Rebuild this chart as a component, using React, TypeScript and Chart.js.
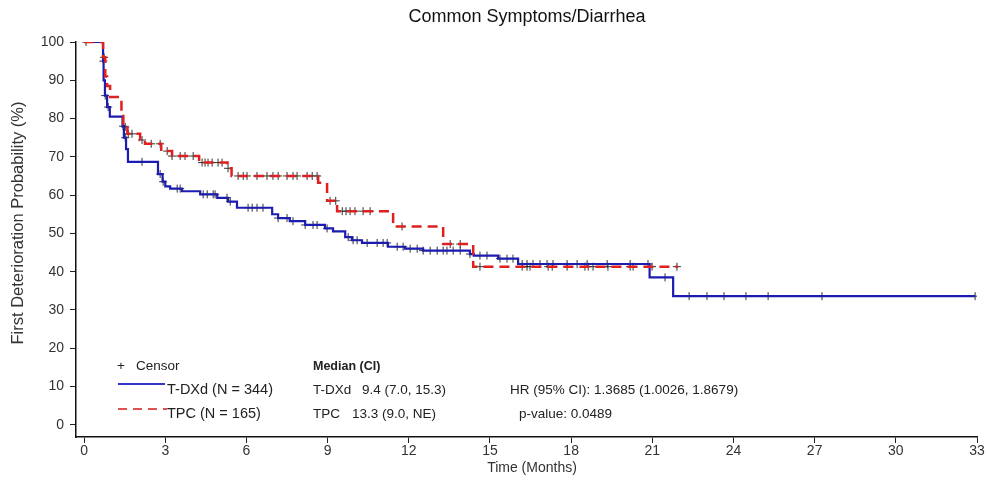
import React, { useEffect, useRef } from "react";
import { Chart, registerables } from "chart.js";

Chart.register(...registerables);

const chartTitle = "Common Symptoms/Diarrhea";
const xAxisTitle = "Time (Months)";
const yAxisTitle = "First Deterioration Probability (%)";
const xTicks = [0, 3, 6, 9, 12, 15, 18, 21, 24, 27, 30, 33];
const yTicks = [0, 10, 20, 30, 40, 50, 60, 70, 80, 90, 100];

// T-DXd Kaplan-Meier steps (month, %)
const tdxdTimes = [0, 0.7, 0.72, 0.77, 0.85, 0.95, 1.42, 1.47, 1.55, 1.62, 2.73, 2.9, 3.0, 3.18, 3.62, 4.29, 4.92, 5.32, 5.65, 6.95, 7.17, 7.6, 8.17, 8.9, 9.2, 9.65, 9.9, 10.27, 11.23, 11.86, 12.53, 14.26, 14.4, 15.3, 16.04, 20.9, 21.77, 32.93];
const tdxdValues = [100, 95, 90, 86, 83, 80.5, 78, 75, 72, 68.7, 65.5, 63.5, 62.3, 61.7, 61.0, 60.2, 59.3, 58.3, 56.7, 55, 54, 53.2, 52.2, 51.3, 50.5, 49, 48.2, 47.5, 46.5, 46, 45.5, 44.6, 44.2, 43.4, 42, 38.5, 33.6, 33.6];

// TPC Kaplan-Meier steps (month, %)
const tpcTimes = [0, 0.7, 0.78, 0.85, 0.96, 1.38, 1.45, 1.6, 2.07, 2.25, 2.85, 3.25, 4.25, 5.3, 5.45, 8.65, 8.98, 9.35, 11.42, 13.27, 14.38, 21.95];
const tpcValues = [100, 96, 91, 88.5, 85.6, 82, 77.8, 76, 74.4, 73.4, 71.5, 70.2, 68.5, 67, 65, 63.2, 58.5, 55.8, 51.8, 47.2, 41.3, 41.3];

// Censor times (months)
const tdxdCensorTimes = [0.71, 0.78, 0.89, 1.44, 1.52, 2.14, 2.81, 2.92, 3.44, 3.55, 4.4, 4.55, 4.77, 4.84, 5.28, 5.4, 6.06, 6.21, 6.39, 6.61, 7.17, 7.5, 7.72, 8.17, 8.46, 8.61, 8.98, 9.76, 9.94, 10.09, 10.46, 10.83, 11.05, 11.2, 11.57, 11.79, 12.05, 12.31, 12.53, 12.79, 13.05, 13.27, 13.41, 13.64, 13.9, 14.26, 14.63, 14.89, 15.37, 15.63, 15.85, 16.19, 16.37, 16.59, 16.85, 17.11, 17.33, 17.85, 18.22, 18.59, 19.33, 20.18, 20.84, 21.47, 22.36, 23.02, 23.65, 24.46, 25.28, 27.27, 32.93];
const tpcCensorTimes = [0.07, 0.74, 1.52, 1.63, 1.77, 2.14, 2.48, 2.81, 3.07, 3.25, 3.55, 3.73, 4.03, 4.36, 4.47, 4.58, 4.73, 4.95, 5.1, 5.32, 5.69, 5.88, 6.02, 6.39, 6.76, 6.98, 7.17, 7.5, 7.72, 7.87, 8.24, 8.43, 8.61, 9.09, 9.3, 9.54, 9.68, 9.83, 10.01, 10.31, 10.57, 11.75, 13.53, 13.9, 14.63, 16.19, 16.37, 16.48, 17.15, 17.3, 17.85, 18.51, 18.63, 18.81, 19.36, 20.18, 20.29, 20.99, 21.91];

const censorLabel = "Censor";
const tdxdLabel = "T-DXd (N = 344)";
const tpcLabel = "TPC (N = 165)";
const medianHeader = "Median (CI)";
const tdxdMedian = ["T-DXd", "9.4 (7.0, 15.3)"];
const tpcMedian = ["TPC", "13.3 (9.0, NE)"];
const hrText = "HR (95% CI): 1.3685 (1.0026, 1.8679)";
const pText = "p-value: 0.0489";

const BLUE = "#1c1cb0";
const RED = "#dd2020";
const FONT = "'Liberation Sans', Arial, sans-serif";

function stepValueAt(times: number[], values: number[], t: number) {
  let v = values[0];
  for (let i = 0; i < times.length; i++) if (times[i] <= t) v = values[i];
  return v;
}

const toPoints = (times: number[], values: number[]) => times.map((t, i) => ({ x: t, y: values[i] }));
const toCensor = (ct: number[], times: number[], values: number[]) => ct.map((t) => ({ x: t, y: stepValueAt(times, values, t) }));

const overlayPlugin = {
  id: "overlay",
  afterDraw(chart: any) {
    const ctx = chart.ctx as CanvasRenderingContext2D;
    ctx.save();
    ctx.fillStyle = "#111";
    ctx.textBaseline = "middle";
    // title
    ctx.font = `18px ${FONT}`;
    ctx.textAlign = "center";
    ctx.fillText(chartTitle, 527, 17);
    // x axis title
    ctx.font = `14px ${FONT}`;
    ctx.fillStyle = "#333";
    ctx.fillText(xAxisTitle, 532, 468);
    // y axis title
    ctx.save();
    ctx.translate(18, 223);
    ctx.rotate(-Math.PI / 2);
    ctx.font = `16.5px ${FONT}`;
    ctx.fillText(yAxisTitle, 0, 0);
    ctx.restore();

    // legend
    ctx.textAlign = "left";
    ctx.font = `13.5px ${FONT}`;
    ctx.fillStyle = "#222";
    ctx.fillText("+", 117, 366);
    ctx.fillText(censorLabel, 136, 366);
    ctx.strokeStyle = "#3535cc";
    ctx.lineWidth = 2;
    ctx.beginPath();
    ctx.moveTo(118, 384);
    ctx.lineTo(165, 384);
    ctx.stroke();
    ctx.strokeStyle = "#e05050";
    ctx.setLineDash([9, 6]);
    ctx.beginPath();
    ctx.moveTo(118, 409);
    ctx.lineTo(167, 409);
    ctx.stroke();
    ctx.setLineDash([]);
    ctx.font = `14.5px ${FONT}`;
    ctx.fillText(tdxdLabel, 167, 390);
    ctx.fillText(tpcLabel, 167, 414);

    ctx.font = `bold 12.5px ${FONT}`;
    ctx.fillText(medianHeader, 313, 367);
    ctx.font = `13.5px ${FONT}`;
    ctx.fillText(tdxdMedian[0], 313, 390);
    ctx.fillText(tdxdMedian[1], 362, 390);
    ctx.fillText(tpcMedian[0], 313, 414);
    ctx.fillText(tpcMedian[1], 352, 414);
    ctx.fillText(hrText, 510, 390);
    ctx.fillText(pText, 519, 414);
    ctx.restore();
  },
};

export default function App() {
  const ref = useRef<HTMLCanvasElement | null>(null);
  useEffect(() => {
    if (!ref.current) return;
    const chart = new Chart(ref.current, {
      type: "line",
      data: {
        datasets: [
          {
            label: "TPC",
            data: toPoints(tpcTimes, tpcValues),
            borderColor: RED,
            borderWidth: 2.5,
            borderDash: [10, 6],
            stepped: "before",
            pointRadius: 0,
            fill: false,
          },
          {
            label: "T-DXd",
            data: toPoints(tdxdTimes, tdxdValues),
            borderColor: BLUE,
            borderWidth: 2.2,
            stepped: "before",
            pointRadius: 0,
            fill: false,
          },
          {
            label: "Censor TPC",
            type: "scatter",
            data: toCensor(tpcCensorTimes, tpcTimes, tpcValues),
            pointStyle: "cross",
            pointRadius: 4,
            borderWidth: 1,
            borderColor: "#333",
            showLine: false,
          } as any,
          {
            label: "Censor T-DXd",
            type: "scatter",
            data: toCensor(tdxdCensorTimes, tdxdTimes, tdxdValues),
            pointStyle: "cross",
            pointRadius: 4,
            borderWidth: 1,
            borderColor: "#333",
            showLine: false,
          } as any,
        ],
      },
      options: {
        animation: false,
        responsive: false,
        layout: { padding: { left: 0, right: 11, top: 42, bottom: 0 } },
        plugins: { legend: { display: false }, tooltip: { enabled: false }, title: { display: false } },
        scales: {
          x: {
            type: "linear",
            min: -0.3,
            max: 33,
            afterBuildTicks: (s: any) => { s.ticks = xTicks.map((v) => ({ value: v })); },
            afterFit: (s: any) => { s.height = 48; },
            grid: { display: true, drawOnChartArea: false, drawTicks: true, tickLength: 6, color: "#222" },
            border: { display: true, color: "#111", width: 1.5 },
            ticks: { color: "#333", font: { family: FONT, size: 14 }, padding: 0, maxRotation: 0, autoSkip: false },
          },
          y: {
            type: "linear",
            min: -3.2,
            max: 100,
            afterBuildTicks: (s: any) => { s.ticks = yTicks.map((v) => ({ value: v })); },
            afterFit: (s: any) => { s.width = 76; },
            grid: { display: true, drawOnChartArea: false, drawTicks: true, tickLength: 6, color: "#222" },
            border: { display: true, color: "#111", width: 1.5 },
            ticks: { color: "#333", font: { family: FONT, size: 14 }, padding: 6, autoSkip: false },
          },
        },
      },
      plugins: [overlayPlugin],
    } as any);
    return () => chart.destroy();
  }, []);
  return (
    <div style={{ position: "fixed", left: 0, top: 0, width: 988, height: 485, background: "#fff" }}>
      <canvas ref={ref} width={988} height={485} />
    </div>
  );
}
